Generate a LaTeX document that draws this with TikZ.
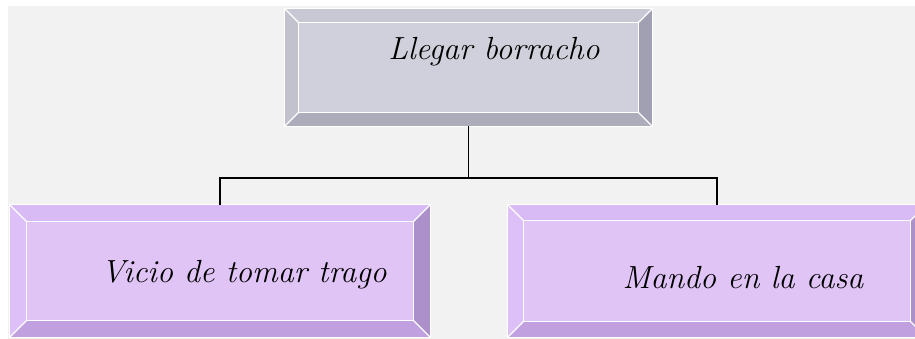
\documentclass[tikz,border=0pt]{standalone}
\usetikzlibrary{calc}
\definecolor{bgray}{RGB}{242,242,242}
\definecolor{gface}{RGB}{208,208,220}
\definecolor{gtop}{RGB}{200,200,212}
\definecolor{gleft}{RGB}{194,194,207}
\definecolor{gbot}{RGB}{172,172,186}
\definecolor{gright}{RGB}{160,160,178}
\definecolor{pface}{RGB}{224,196,246}
\definecolor{ptop}{RGB}{216,186,245}
\definecolor{pleft}{RGB}{221,192,247}
\definecolor{pbot}{RGB}{192,160,222}
\definecolor{pright}{RGB}{172,144,202}
\newcommand\bevelbox[6]{%
  % #1 node name, #2 bevel, #3 top, #4 left, #5 bottom, #6 right
  \fill[#3] (#1.north west) -- (#1.north east) -- ($(#1.north east)+(-#2,#2)$) -- ($(#1.north west)+(#2,#2)$) -- cycle;
  \fill[#4] (#1.north west) -- ($(#1.north west)+(#2,#2)$) -- ($(#1.south west)+(#2,-#2)$) -- (#1.south west) -- cycle;
  \fill[#5] (#1.south west) -- ($(#1.south west)+(#2,-#2)$) -- ($(#1.south east)+(-#2,-#2)$) -- (#1.south east) -- cycle;
  \fill[#6] (#1.north east) -- (#1.south east) -- ($(#1.south east)+(-#2,-#2)$) -- ($(#1.north east)+(-#2,#2)$) -- cycle;
  \draw[white,line width=1.2pt] ($(#1.north west)+(#2,#2)$) rectangle ($(#1.south east)+(-#2,-#2)$);
  \draw[white,line width=1.2pt] (#1.north west) -- ($(#1.north west)+(#2,#2)$)
     (#1.south west) -- ($(#1.south west)+(#2,-#2)$)
     (#1.south east) -- ($(#1.south east)+(-#2,-#2)$)
     (#1.north east) -- ($(#1.north east)+(-#2,#2)$);
  \draw[white,line width=0.8pt] (#1.north west) rectangle (#1.south east);
}
\tikzset{
  boxg/.style={rectangle, fill=gface, inner sep=0pt},
  boxp/.style={rectangle, fill=pface, inner sep=0pt},
  lbl/.style={anchor=base, inner sep=0pt, font=\fontsize{32}{38}\selectfont\itshape},
  conn/.style={line width=1.8pt, black}
}
\begin{document}
\begin{tikzpicture}[x=1pt,y=-1pt]
\useasboundingbox (0,0) rectangle (915,339);
\clip (0,0) rectangle (915,339);
\fill[white] (0,0) rectangle (915,339);
\fill[bgray] (8,6) rectangle (915,339);

\node[boxg, minimum width=367pt, minimum height=117pt] (top) at (468.5,67.5) {};
\node[boxp, minimum width=420pt, minimum height=132pt] (left) at (220,271) {};
\node[boxp, minimum width=418pt, minimum height=132pt] (right) at (717,271) {};

\bevelbox{top}{14}{gtop}{gleft}{gbot}{gright}
\bevelbox{left}{17}{ptop}{pleft}{pbot}{pright}
\bevelbox{right}{16}{ptop}{pleft}{pbot}{pright}

\node[lbl] (t1) at (494,60) {Llegar borracho};
\node[lbl] (t2) at (244,282) {Vicio de tomar trago};
\node[lbl] (t3) at (743,288) {Mando en la casa};

\coordinate (j) at ($(top.south)+(0,52)$);
\draw[conn] (top.south) -- (j);
\draw[conn] (j) -| (left.north);
\draw[conn] (j) -| (right.north);
\end{tikzpicture}
\end{document}
